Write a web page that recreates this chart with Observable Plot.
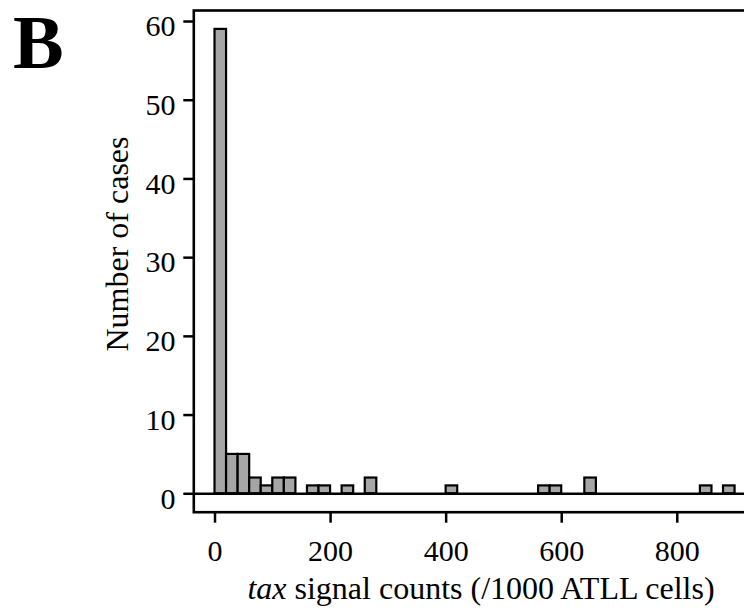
<!DOCTYPE html>
<html><head><meta charset="utf-8">
<script src="https://cdn.jsdelivr.net/npm/d3@7"></script>
<script src="https://cdn.jsdelivr.net/npm/@observablehq/plot@0.6"></script>
<style>
html,body{margin:0;padding:0;overflow:hidden;background:#fff;width:744px;height:611px}
#wrap{position:relative;width:744px;height:611px;overflow:hidden}
#wrap svg{position:absolute;left:0;top:0;max-width:none !important;width:760px;height:611px}
</style></head>
<body><div id="wrap"></div>
<script>
// Histogram data (bin start, count); bin width 20
const binStarts = [0, 20, 40, 60, 80, 100, 120, 160, 180, 220, 260, 400, 560, 580, 640, 840, 880];
const counts    = [59, 5, 5, 2, 1, 2, 2, 1, 1, 1, 2, 1, 1, 1, 2, 1, 1];
const binWidth = 20;
const yTicks = [0, 10, 20, 30, 40, 50, 60];
const xTicks = [0, 200, 400, 600, 800];
const panelLabel = "B";
const yTitle = "Number of cases";
const xTitleItalic = "tax";
const xTitleRest = " signal counts (/1000 ATLL cells)";

const bins = binStarts.map((s, i) => ({x1: s, x2: s + binWidth, count: counts[i]}));

const font = "'Liberation Serif', 'Times New Roman', serif";
const chart = Plot.plot({
  width: 760,
  height: 611,
  marginLeft: 193.3,
  marginRight: 0,
  marginTop: 10,
  marginBottom: 99.3,
  style: {fontFamily: font, fontSize: "30px", color: "black", background: "white", overflow: "visible", maxWidth: "none"},
  x: {domain: [-36.7, 944]},
  y: {domain: [-2.34, 61.4]},
  marks: [
    Plot.rectY(bins, {x1: "x1", x2: "x2", y: "count", fill: "#a6a6a6", stroke: "black", strokeWidth: 2.2, inset: 0}),
    Plot.ruleY([0], {stroke: "black", strokeWidth: 2.5}),
    Plot.frame({stroke: "black", strokeWidth: 2.6}),
    Plot.axisY(yTicks, {tickSize: 10, strokeWidth: 2.5, fill: "none", label: null}),
    Plot.axisY(yTicks, {tickSize: 0, tickPadding: 18.3, dy: 5.2, fontSize: 30, label: null}),
    Plot.axisX(xTicks, {tickSize: 11, strokeWidth: 2.5, fill: "none", label: null}),
    Plot.axisX(xTicks, {tickSize: 0, tickPadding: 27, fontSize: 30, label: null})
  ]
});
document.getElementById("wrap").appendChild(chart);

const svg = d3.select(chart);
svg.append("text")
  .attr("x", 13).attr("y", 68)
  .attr("text-anchor", "start")
  .attr("font-family", font).attr("font-size", 76).attr("font-weight", "bold")
  .attr("fill", "black")
  .text(panelLabel);

svg.append("text")
  .attr("transform", "translate(127.5,244) rotate(-90)")
  .attr("text-anchor", "middle")
  .attr("font-family", font).attr("font-size", 32).attr("fill", "black")
  .text(yTitle);

const xt = svg.append("text")
  .attr("x", 481).attr("y", 598.5)
  .attr("text-anchor", "middle")
  .attr("font-family", font).attr("font-size", 32).attr("fill", "black");
xt.append("tspan").attr("font-style", "italic").text(xTitleItalic);
xt.append("tspan").text(xTitleRest);
</script>
</body></html>
